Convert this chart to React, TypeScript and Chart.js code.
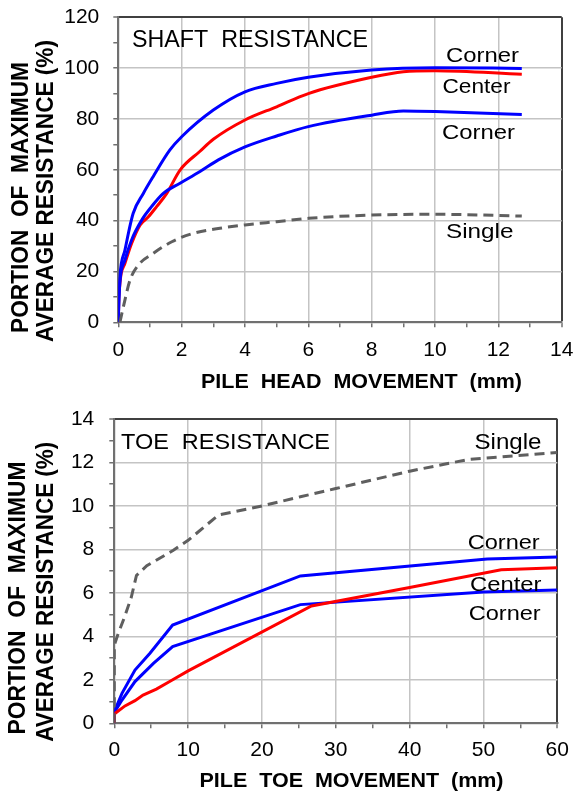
import React, { useEffect, useRef } from 'react';
import { Chart, registerables } from 'chart.js';

Chart.register(...registerables);

// ---------- Upper chart: SHAFT RESISTANCE vs PILE HEAD MOVEMENT (mm) ----------
const SHAFT_CORNER_HI_X = [0, 0.02, 0.05, 0.21, 0.47, 0.79, 1.1, 1.63, 2, 3, 4, 5, 6, 8, 10, 12.74];
const SHAFT_CORNER_HI_Y = [0, 10, 18, 28.4, 42.9, 50.7, 57.3, 67.8, 73, 83.5, 90.7, 94, 96.4, 99.3, 100.2, 99.9];

const SHAFT_CENTER_X = [0, 0.02, 0.21, 0.42, 0.69, 0.95, 1.21, 1.53, 1.95, 2.58, 3, 4, 5, 6, 8, 9, 10, 12.74];
const SHAFT_CENTER_Y = [0, 10, 23.2, 31, 38.3, 41.5, 45.5, 50.7, 59.9, 67.3, 72, 79.6, 84.8, 90, 96.4, 98.6, 99, 97.6];

const SHAFT_CORNER_LO_X = [0, 0.02, 0.21, 0.42, 0.74, 1.05, 1.42, 1.95, 2.58, 3.16, 4, 5, 6, 8, 9, 10, 12.74];
const SHAFT_CORNER_LO_Y = [0, 10, 24.5, 32.4, 40.2, 45.5, 50.7, 54.7, 59.3, 63.9, 69, 73.3, 77, 81.5, 83.1, 82.9, 81.8];

const SHAFT_SINGLE_X = [0.05, 0.16, 0.37, 0.63, 1.1, 1.69, 2.37, 3.21, 4, 5, 6, 8, 10, 12.74];
const SHAFT_SINGLE_Y = [0, 6.1, 16.6, 22.5, 27.1, 31.7, 35, 37, 38.3, 39.6, 40.9, 42.2, 42.5, 41.8];

// ---------- Lower chart: TOE RESISTANCE vs PILE TOE MOVEMENT (mm) ----------
const TOE_CORNER_HI_X = [0, 0, 1.04, 2.8, 4.83, 7.9, 25.2, 50.5, 60];
const TOE_CORNER_HI_Y = [0, 0.53, 1.38, 2.45, 3.22, 4.52, 6.78, 7.56, 7.65];

const TOE_CENTER_X = [0, 0, 1.45, 2.8, 3.9, 5.7, 7.5, 10, 26.7, 40, 52.4, 60];
const TOE_CENTER_Y = [0, 0.43, 0.8, 1.04, 1.3, 1.57, 1.92, 2.41, 5.4, 6.25, 7.06, 7.16];

const TOE_CORNER_LO_X = [0, 0, 1.04, 2.8, 5.3, 7.9, 25.2, 50, 60];
const TOE_CORNER_LO_Y = [0, 0.5, 1.07, 1.92, 2.76, 3.53, 5.46, 6.04, 6.13];

const TOE_SINGLE_X = [0, 0, 0.5, 1.4, 2.3, 3, 4.4, 8, 10, 14.1, 20, 25.2, 30, 40, 48, 60];
const TOE_SINGLE_Y = [0, 3.6, 4.1, 4.9, 5.8, 6.8, 7.25, 7.96, 8.42, 9.58, 10, 10.42, 10.8, 11.6, 12.14, 12.46];

// Axis ranges / tick steps
const SHAFT_X_RANGE = [0, 14];
const SHAFT_X_STEP = 1;
const SHAFT_X_LABEL_EVERY = 2;
const SHAFT_Y_RANGE = [0, 120];
const SHAFT_Y_STEP = 10;
const SHAFT_Y_LABEL_EVERY = 20;

const TOE_X_RANGE = [0, 60];
const TOE_X_STEP = 5;
const TOE_X_LABEL_EVERY = 10;
const TOE_Y_RANGE = [0, 14];
const TOE_Y_STEP = 1;
const TOE_Y_LABEL_EVERY = 2;

// Texts
const Y_TITLE = ['PORTION  OF  MAXIMUM', 'AVERAGE RESISTANCE (%)'];
const SHAFT_X_TITLE = 'PILE  HEAD  MOVEMENT  (mm)';
const TOE_X_TITLE = 'PILE  TOE  MOVEMENT  (mm)';
const SHAFT_PANEL = 'SHAFT  RESISTANCE';
const TOE_PANEL = 'TOE  RESISTANCE';
const LBL_CORNER = 'Corner';
const LBL_CENTER = 'Center';
const LBL_SINGLE = 'Single';

const FONT = '"Liberation Sans", Arial, Helvetica, sans-serif';
const AXIS_COL = '#707070';
const FRAME_COL = '#404040';
const GRID_COL = '#c4c4c4';
const BLUE = '#0000ff';
const RED = '#ff0000';
const DASH_COL = '#5f5f5f';

type TextItem = {
  text: string;
  x: number;
  y: number;
  size: number;
  bold?: boolean;
  width?: number;
  rotate?: boolean;
};

const pts = (xs: number[], ys: number[]) => xs.map((x, i) => ({ x, y: ys[i] }));

const textPlugin = {
  id: 'freeText',
  afterDraw(chart: any, _args: any, opts: any) {
    const items: TextItem[] = (opts && opts.items) || [];
    const ctx: CanvasRenderingContext2D = chart.ctx;
    items.forEach((it) => {
      ctx.save();
      ctx.font = `${it.bold ? 'bold ' : ''}${it.size}px ${FONT}`;
      ctx.fillStyle = '#000000';
      ctx.textBaseline = 'alphabetic';
      ctx.textAlign = 'left';
      const w = ctx.measureText(it.text).width;
      const sx = it.width ? it.width / w : 1;
      ctx.translate(it.x, it.y);
      if (it.rotate) ctx.rotate(-Math.PI / 2);
      ctx.scale(sx, 1);
      ctx.fillText(it.text, it.rotate ? -w / 2 : 0, 0);
      ctx.restore();
    });
  },
};

function axis(
  range: number[],
  step: number,
  labelEvery: number,
  isX: boolean,
  fitSize: number,
  padding: number
) {
  const max = range[1];
  const isMajor = (v: number) => Math.abs(v / labelEvery - Math.round(v / labelEvery)) < 1e-6;
  return {
    type: 'linear',
    position: isX ? 'bottom' : 'left',
    min: range[0],
    max: range[1],
    afterFit: (scale: any) => {
      if (isX) scale.height = fitSize;
      else scale.width = fitSize;
      scale.paddingTop = 0;
      scale.paddingBottom = 0;
      scale.paddingLeft = 0;
      scale.paddingRight = 0;
    },
    border: { display: true, color: AXIS_COL, width: 2 },
    grid: {
      display: true,
      drawOnChartArea: true,
      drawTicks: true,
      tickLength: 5,
      tickWidth: 1.5,
      tickColor: AXIS_COL,
      color: (c: any) => {
        const v = c.tick ? c.tick.value : NaN;
        if (Math.abs(v - max) < 1e-6) return FRAME_COL;
        return isMajor(v) ? GRID_COL : 'rgba(0,0,0,0)';
      },
      lineWidth: (c: any) => {
        const v = c.tick ? c.tick.value : NaN;
        return Math.abs(v - max) < 1e-6 ? 2 : 1.5;
      },
    },
    ticks: {
      stepSize: step,
      autoSkip: false,
      maxRotation: 0,
      minRotation: 0,
      padding,
      color: '#000000',
      font: { family: FONT, size: 21 },
      callback: (v: any) => (isMajor(Number(v)) ? String(v) : ''),
    },
  };
}

function lineDs(label: string, data: any[], color: string, dashed: boolean, smooth: boolean) {
  return {
    label,
    data,
    borderColor: color,
    backgroundColor: color,
    borderWidth: 3,
    borderDash: dashed ? [10, 6] : [],
    pointRadius: 0,
    pointHoverRadius: 0,
    fill: false,
    tension: 0,
    cubicInterpolationMode: smooth ? 'monotone' : 'default',
  };
}

function useChart(ref: React.RefObject<HTMLCanvasElement>, cfg: () => any) {
  useEffect(() => {
    if (!ref.current) return;
    const chart = new Chart(ref.current, cfg());
    return () => chart.destroy();
  }, []);
}

const W = 576;
const H = 397;

export default function App() {
  const topRef = useRef<HTMLCanvasElement>(null);
  const botRef = useRef<HTMLCanvasElement>(null);

  useChart(topRef, () => ({
    type: 'line',
    data: {
      datasets: [
        lineDs('Single', pts(SHAFT_SINGLE_X, SHAFT_SINGLE_Y), DASH_COL, true, true),
        lineDs('Corner (lower)', pts(SHAFT_CORNER_LO_X, SHAFT_CORNER_LO_Y), BLUE, false, true),
        lineDs('Corner (upper)', pts(SHAFT_CORNER_HI_X, SHAFT_CORNER_HI_Y), BLUE, false, true),
        lineDs('Center', pts(SHAFT_CENTER_X, SHAFT_CENTER_Y), RED, false, true),
      ],
    },
    options: {
      animation: false,
      responsive: false,
      devicePixelRatio: 1,
      layout: { padding: { top: 17.3, right: 14.3, left: 0, bottom: 0 } },
      scales: {
        x: axis(SHAFT_X_RANGE, SHAFT_X_STEP, SHAFT_X_LABEL_EVERY, true, H - 322.3, 10),
        y: axis(SHAFT_Y_RANGE, SHAFT_Y_STEP, SHAFT_Y_LABEL_EVERY, false, 118.3, 14),
      },
      plugins: {
        legend: { display: false },
        tooltip: { enabled: false },
        freeText: {
          items: [
            { text: Y_TITLE[0], x: 28.3, y: 197.5, size: 23, bold: true, width: 271, rotate: true },
            { text: Y_TITLE[1], x: 53.3, y: 191, size: 23, bold: true, width: 302, rotate: true },
            { text: SHAFT_X_TITLE, x: 201, y: 388, size: 21, bold: true, width: 321 },
            { text: SHAFT_PANEL, x: 132, y: 46.7, size: 24, width: 236 },
            { text: LBL_CORNER, x: 446, y: 61.7, size: 21, width: 73 },
            { text: LBL_CENTER, x: 442.5, y: 93.3, size: 21, width: 68 },
            { text: LBL_CORNER, x: 442, y: 139.3, size: 21, width: 73 },
            { text: LBL_SINGLE, x: 446, y: 238.3, size: 21, width: 67.5 },
          ],
        },
      },
    },
    plugins: [textPlugin],
  }));

  useChart(botRef, () => ({
    type: 'line',
    data: {
      datasets: [
        lineDs('Single', pts(TOE_SINGLE_X, TOE_SINGLE_Y), DASH_COL, true, false),
        lineDs('Center', pts(TOE_CENTER_X, TOE_CENTER_Y), RED, false, false),
        lineDs('Corner (lower)', pts(TOE_CORNER_LO_X, TOE_CORNER_LO_Y), BLUE, false, false),
        lineDs('Corner (upper)', pts(TOE_CORNER_HI_X, TOE_CORNER_HI_Y), BLUE, false, false),
      ],
    },
    options: {
      animation: false,
      responsive: false,
      devicePixelRatio: 1,
      layout: { padding: { top: 22, right: 18.7, left: 0, bottom: 0 } },
      scales: {
        x: axis(TOE_X_RANGE, TOE_X_STEP, TOE_X_LABEL_EVERY, true, H - 326.3, 9),
        y: axis(TOE_Y_RANGE, TOE_Y_STEP, TOE_Y_LABEL_EVERY, false, 114.3, 15),
      },
      plugins: {
        legend: { display: false },
        tooltip: { enabled: false },
        freeText: {
          items: [
            { text: Y_TITLE[0], x: 25, y: 201, size: 23, bold: true, width: 273, rotate: true },
            { text: Y_TITLE[1], x: 53, y: 194.7, size: 23, bold: true, width: 300, rotate: true },
            { text: TOE_X_TITLE, x: 199.5, y: 390.3, size: 21, bold: true, width: 304 },
            { text: TOE_PANEL, x: 121, y: 52, size: 22, width: 209 },
            { text: LBL_SINGLE, x: 474.5, y: 52, size: 22, width: 67 },
            { text: LBL_CORNER, x: 467.7, y: 152, size: 21, width: 72 },
            { text: LBL_CENTER, x: 470, y: 194, size: 21, width: 71.5 },
            { text: LBL_CORNER, x: 468.7, y: 223, size: 21, width: 72 },
          ],
        },
      },
    },
    plugins: [textPlugin],
  }));

  return (
    <div
      style={{
        position: 'absolute',
        left: 0,
        top: 0,
        width: W,
        height: 794,
        background: '#ffffff',
        overflow: 'hidden',
      }}
    >
      <canvas
        ref={topRef}
        width={W}
        height={H}
        style={{ position: 'absolute', left: 0, top: 0, width: W, height: H, display: 'block' }}
      />
      <canvas
        ref={botRef}
        width={W}
        height={H}
        style={{ position: 'absolute', left: 0, top: H, width: W, height: H, display: 'block' }}
      />
    </div>
  );
}
